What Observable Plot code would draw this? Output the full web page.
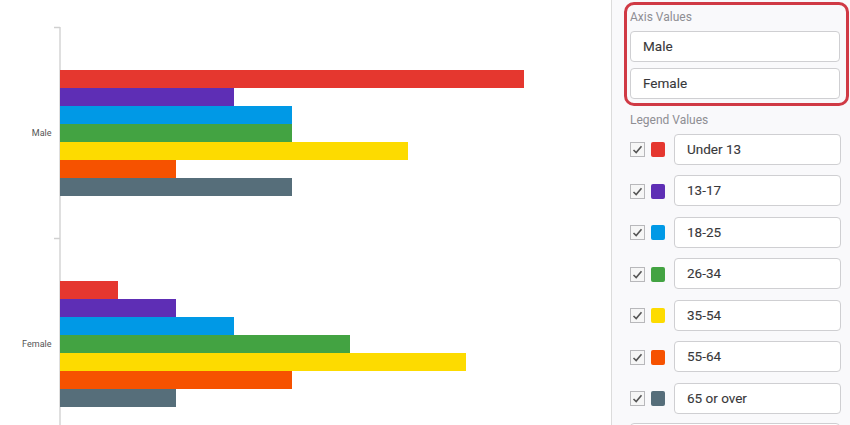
<!DOCTYPE html>
<html>
<head>
<meta charset="utf-8">
<script src="https://cdn.jsdelivr.net/npm/d3@7"></script>
<script src="https://cdn.jsdelivr.net/npm/@observablehq/plot@0.6"></script>
<style>
  html, body { margin: 0; padding: 0; background: #fff; }
  body { width: 850px; height: 425px; overflow: hidden; position: relative; font-family: Roboto, "Liberation Sans", sans-serif; }
  #chart { position: absolute; left: 0; top: 0; width: 612px; height: 425px; overflow: hidden; }
  #panel { position: absolute; left: 611px; top: 0; width: 239px; height: 425px; background: #f9f9fb; border-left: 1px solid #dcdcdc; box-sizing: border-box; overflow: hidden; }
  .box { position: absolute; left: 12px; top: 2px; width: 225px; height: 104px; box-sizing: border-box; border: 3px solid #d03a45; border-radius: 10px; }
  .lbl { position: absolute; left: 18px; font-size: 12px; color: #8e8e93; }
  .inp { position: absolute; left: 18px; width: 210px; height: 31px; box-sizing: border-box; background: #fff; border: 1px solid #cfcfd2; border-radius: 4px; font-size: 13.5px; color: #38383a; line-height: 29px; padding-left: 12px; -webkit-text-stroke: 0.1px #38383a; }
  .chk { position: absolute; left: 18px; width: 15px; height: 15px; box-sizing: border-box; border: 1px solid #b8b8bb; background: #f6f6f6; }
  .sw { position: absolute; left: 39px; width: 14px; height: 15px; border-radius: 2px; }
</style>
</head>
<body>
<div id="chart"></div>
<div id="panel"></div>
<script>
const genders = ["Male", "Female"];
const ages = ["Under 13", "13-17", "18-25", "26-34", "35-54", "55-64", "65 or over"];
const maleValues = [8, 3, 4, 4, 6, 2, 4];
const femaleValues = [1, 2, 3, 5, 7, 4, 2];
const colors = ["#e5372f", "#5e2eb5", "#0099e6", "#43a342", "#fddb00", "#f65200", "#566e7a"];

const rows = [
  ...ages.map((a, i) => ({gender: genders[0], age: a, value: maleValues[i]})),
  ...ages.map((a, i) => ({gender: genders[1], age: a, value: femaleValues[i]}))
];

function facetTicks(index, scales, values, dimensions) {
  const g = d3.create("svg:g");
  g.append("line")
    .attr("x1", dimensions.marginLeft - 6).attr("x2", dimensions.marginLeft)
    .attr("y1", dimensions.marginTop + 0.5).attr("y2", dimensions.marginTop + 0.5)
    .attr("stroke", "#d0d0d0").attr("stroke-width", 1.5);
  return g.node();
}

const chart = Plot.plot({
  width: 612,
  height: 460,
  marginTop: 27,
  marginBottom: 11,
  marginLeft: 60,
  marginRight: 30,
  style: {fontFamily: "Roboto, 'Liberation Sans', sans-serif", fontSize: "9px", color: "#555", background: "transparent"},
  x: {domain: [0, 9], axis: null},
  y: {domain: ages, axis: null, paddingInner: 0, paddingOuter: 2.36},
  fy: {domain: genders, axis: "left", label: null, tickSize: 0, tickPadding: 9, padding: 0},
  color: {domain: ages, range: colors},
  marks: [
    Plot.ruleX([0], {stroke: "#d4d4d4", strokeWidth: 1.5, dx: -0.5}),
    Plot.barX(rows, {x: "value", y: "age", fy: "gender", fill: "age"}),
    facetTicks
  ]
});
document.getElementById("chart").appendChild(chart);

// Side panel
const panel = d3.select("#panel");
panel.append("div").attr("class", "box");
panel.append("div").attr("class", "lbl").style("top", "10px").text("Axis Values");
genders.forEach((g, i) => {
  panel.append("div").attr("class", "inp").style("top", (31 + i * 36.5) + "px").text(g);
});
panel.append("div").attr("class", "lbl").style("top", "113px").text("Legend Values");
ages.forEach((a, i) => {
  const top = 133.5 + i * 41.5;
  const c = panel.append("div").attr("class", "chk").style("top", (top + 8.5) + "px");
  c.html('<svg width="13" height="13" viewBox="0 0 13 13" style="position:absolute;left:0;top:0"><path d="M2.5 7 L5.2 9.6 L10.5 3.2" fill="none" stroke="#555" stroke-width="1.6"/></svg>');
  panel.append("div").attr("class", "sw").style("top", (top + 8.5) + "px").style("background", colors[i]);
  panel.append("div").attr("class", "inp").style("left", "62px").style("width", "167px").style("top", top + "px").style("padding-left", "12px").text(a);
});
panel.append("div").attr("class", "inp").style("top", "423px").text("");
</script>
</body>
</html>
